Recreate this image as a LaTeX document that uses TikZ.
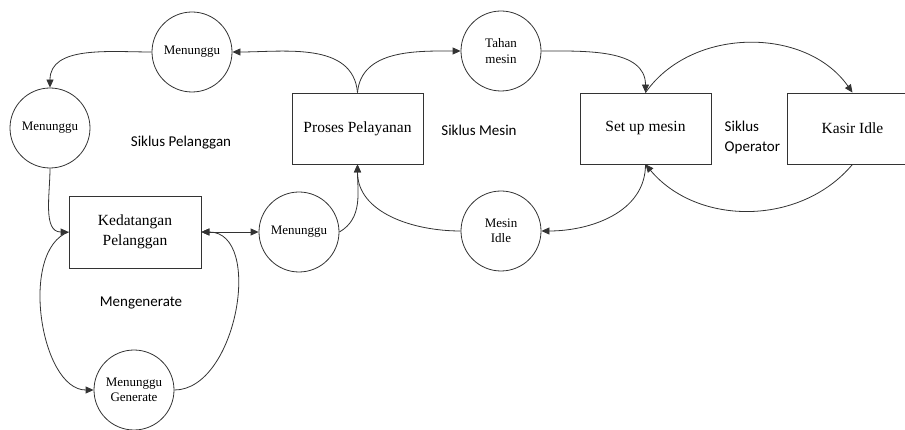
\documentclass[tikz,border=0pt]{standalone}
\usepackage{fontspec}
\setmainfont{Liberation Serif}
\newfontfamily\labelfont{Carlito}
\usetikzlibrary{arrows.meta}
\tikzset{
  state/.style={circle,draw,minimum size=80pt,inner sep=0pt,align=center,
    font=\fontsize{13}{15.5}\selectfont},
  process/.style={rectangle,draw,minimum width=131pt,minimum height=71pt,
    inner sep=0pt,align=center,font=\fontsize{15.5}{20}\selectfont},
  cycle/.style={align=left,font=\labelfont\fontsize{15}{20}\selectfont}
}
\begin{document}
\begin{tikzpicture}[x=1pt,y=-1pt,line width=0.8pt,draw=black!80,
    >={Triangle[length=8pt,width=7pt]}]
      \useasboundingbox (0,0) rectangle (905,430);
      \clip (0,0) rectangle (905,430);
      \draw
        (192,52) node[state] (mt){Menunggu}
        (50,128) node[state] (ml){Menunggu}
        (135,232) node[process,minimum width=132pt,minimum height=72pt] (kp){Kedatangan\\Pelanggan}
        (299,232) node[state] (mm){Menunggu}
        (134,390) node[state] (mg){Menunggu\\Generate}
        (357.5,128.5) node[process] (pp){Proses Pelayanan}
        (501,51) node[state] (tm){Tahan\\mesin}
        (501,231) node[state] (mi){Mesin\\Idle}
        (645.5,128.5) node[process] (su){Set up mesin}
        (852.5,128.5) node[process] (ki){Kasir Idle};
      \draw
        (181,143) node[cycle] (sp){Siklus Pelanggan}
        (479,130) node[cycle] (sm){Siklus Mesin}
        (721,138) node[cycle,anchor=west] (so){Siklus\\Operator}
        (141,303) node[cycle] (gen){Mengenerate};
      \begin{scope}[->]
        \draw (pp.north) to[out=95,in=0] (mt.east);
        \draw (pp.north) to[out=85,in=180] (tm.west);
        \draw (mt.west) to[out=180,in=90] (ml.north);
        \draw (ml.south) to[out=-90,in=180] (kp.west);
        \draw (kp.west) to[out=200,in=180,looseness=0.85] (mg.west);
        \draw (mg.east) to[out=0,in=0] (kp.east);
        \draw[<->] (kp.east) to (mm.west);
        \draw (mm.east) to[out=30,in=-90] (pp.south);
        \draw (mi.west) to[out=180,in=-90] (pp.south);
        \draw (tm.east) to[out=0,in=90] (su.north);
        \draw (su.south) to[out=-90,in=0] (mi.east);
        \draw (su.north) to[out=55,in=125] (ki.north);
        \draw (ki.south) to[out=-130,in=-50] (su.south);
      \end{scope}
    \end{tikzpicture}
\end{document}
